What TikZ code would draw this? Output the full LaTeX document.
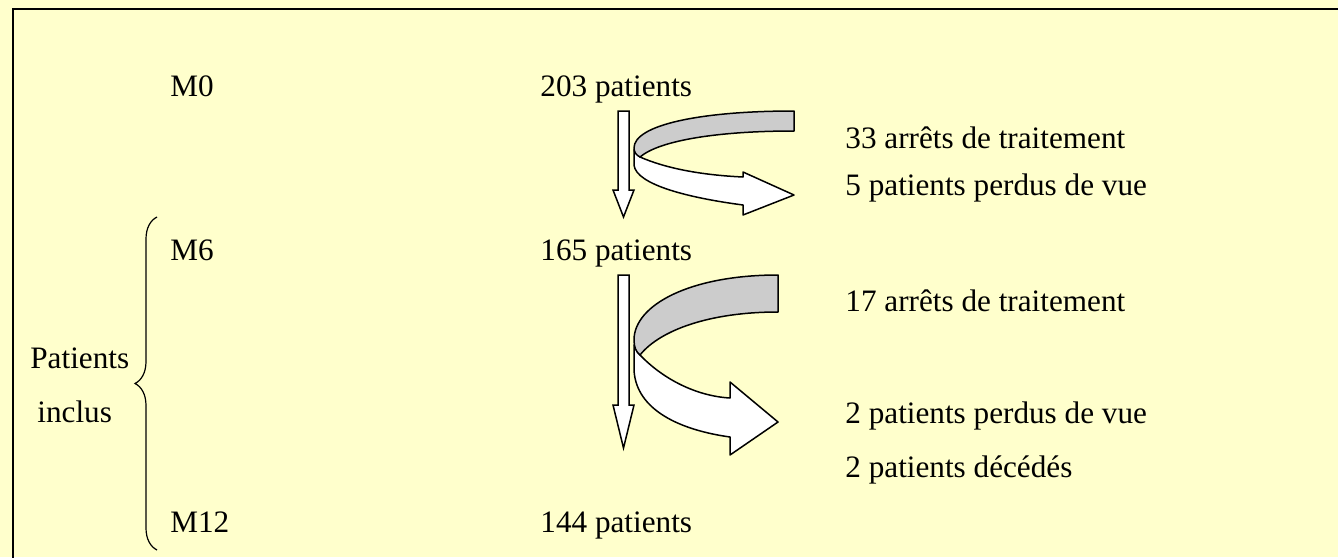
\documentclass[tikz,border=0pt]{standalone}
\usepackage{fontspec}
\setmainfont{Liberation Serif}
\usetikzlibrary{positioning, decorations.pathreplacing}
\definecolor{paper}{RGB}{255,255,204}
\definecolor{backband}{RGB}{204,204,204}

\begin{document}
\begin{tikzpicture}[
  x=0.5pt, y=-0.5pt,
  txt/.style = {anchor=base west, inner sep=0pt,
                font=\fontsize{15.6}{18}\selectfont},
  band/.style = {draw, line width=0.75pt, line join=round, fill=white},
  backside/.style = {band, fill=backband},
  downarr/.style = {draw, line width=0.75pt, line join=miter, fill=white},
  bracket/.style = {draw, line width=0.6pt,
                    decorate, decoration={brace, amplitude=11pt}},
]
\useasboundingbox (0,0) rectangle (1338,557);
\fill[paper] (0,0) rectangle (1338,557);
\clip (0,0) rectangle (1338,557);
\draw[line width=0.9pt] (1360,9) -- (13,9) -- (13,580);

% time points and counts
\node[txt] (m0)   at (170,96)  {M0};
\node[txt] (p203) at (540,96)  {203 patients};
\node[txt] (m6)   at (170,260) {M6};
\node[txt] (p165) at (540,260) {165 patients};
\node[txt] (m12)  at (170,532) {M12};
\node[txt] (p144) at (540,532) {144 patients};

% exits
\node[txt] (stop1) at (845,148) {33 arrêts de traitement};
\node[txt] (lost1) at (845,195) {5 patients perdus de vue};
\node[txt] (stop2) at (845,311) {17 arrêts de traitement};
\node[txt] (lost2) at (845,423) {2 patients perdus de vue};
\node[txt] (dead2) at (845,477) {2 patients décédés};

\node[txt] (incl1) at (30,368) {Patients};
\node[txt] (incl2) at (37,422) {inclus};
\draw[bracket] (157,550) -- (157,217);

% M0 -> M6
\draw[downarr] (618,111) -- (629,111) -- (629,190) -- (634,190)
  -- (623.5,217) -- (613,190) -- (618,190) -- cycle;
\draw[band] (640,157) .. controls (665,168) and (700,175) .. (743,177)
  -- (743,172) -- (794,195) -- (743,215) -- (743,205)
  .. controls (690,198) and (636,185) .. (634,165) -- (634,150) -- cycle;
\draw[backside] (794,111) .. controls (700,111) and (634,125) .. (634,148)
  .. controls (634,152) and (636,155) .. (640,157)
  .. controls (660,140) and (720,131) .. (794,131) -- cycle;

% M6 -> M12
\draw[downarr] (618,275) -- (629,275) -- (629,405) -- (634,405)
  -- (623.5,448) -- (613,405) -- (618,405) -- cycle;
\draw[band] (640,355) .. controls (662,378) and (695,396) .. (730,398)
  -- (730,382) -- (778,422) -- (730,455) -- (730,437)
  .. controls (680,430) and (636,410) .. (634,370) -- (634,345) -- cycle;
\draw[backside] (778,275) .. controls (690,275) and (634,305) .. (634,340)
  .. controls (634,347) and (636,352) .. (640,355)
  .. controls (660,330) and (710,312) .. (778,312) -- cycle;

\end{tikzpicture}
\end{document}
